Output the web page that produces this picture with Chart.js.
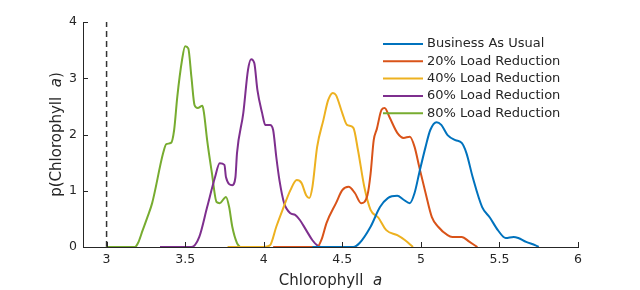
<!DOCTYPE html>
<html>
<head>
<meta charset="utf-8">
<script src="https://cdn.jsdelivr.net/npm/chart.js@4/dist/chart.umd.min.js"></script>
<style>
html,body{margin:0;padding:0;background:#fff;}
#wrap{width:640px;height:290px;}
</style>
</head>
<body>
<div id="wrap"><canvas id="c" width="640" height="290"></canvas></div>
<script>
// ---- data ----
const seriesNames = ["Business As Usual","20% Load Reduction","40% Load Reduction","60% Load Reduction","80% Load Reduction"];
const seriesColors = ["#0072BD","#D95319","#EDB120","#7E2F8E","#77AC30"];

const bauX = [4.31,4.57,4.61,4.68,4.74,4.79,4.85,4.89,4.93,4.96,4.99,5.03,5.06,5.10,5.13,5.17,5.22,5.26,5.29,5.33,5.39,5.44,5.49,5.54,5.59,5.62,5.67,5.73,5.75];
const bauY = [0,0,0.07,0.36,0.71,0.87,0.91,0.84,0.78,0.96,1.32,1.78,2.08,2.22,2.17,1.99,1.90,1.85,1.67,1.24,0.71,0.52,0.30,0.16,0.18,0.16,0.09,0.03,0];

const r20X = [4.06,4.34,4.37,4.40,4.46,4.50,4.54,4.58,4.62,4.66,4.68,4.70,4.72,4.75,4.77,4.80,4.85,4.89,4.93,4.96,4.99,5.03,5.07,5.11,5.17,5.20,5.26,5.31,5.36];
const r20Y = [0,0,0.15,0.43,0.78,1.01,1.07,0.96,0.78,0.92,1.30,1.90,2.10,2.44,2.47,2.31,2.03,1.94,1.96,1.78,1.42,0.96,0.53,0.36,0.21,0.18,0.18,0.09,0];

const r40X = [3.77,4.00,4.04,4.08,4.12,4.17,4.21,4.24,4.27,4.29,4.31,4.34,4.38,4.41,4.44,4.46,4.50,4.53,4.57,4.60,4.64,4.68,4.73,4.78,4.85,4.90,4.95];
const r40Y = [0,0,0.03,0.36,0.66,1.01,1.19,1.14,0.92,0.87,1.07,1.78,2.26,2.61,2.74,2.70,2.38,2.17,2.12,1.72,1.07,0.66,0.52,0.30,0.21,0.12,0];

const r60X = [3.34,3.54,3.59,3.64,3.69,3.72,3.75,3.76,3.80,3.82,3.83,3.87,3.90,3.92,3.94,3.96,3.99,4.01,4.04,4.06,4.08,4.10,4.13,4.17,4.20,4.23,4.27,4.31,4.34,4.36];
const r60Y = [0,0,0.18,0.71,1.24,1.49,1.46,1.24,1.10,1.24,1.67,2.38,3.15,3.34,3.27,2.79,2.38,2.17,2.17,2.08,1.60,1.19,0.78,0.60,0.57,0.48,0.30,0.12,0.03,0];

const r80X = [3.00,3.18,3.20,3.23,3.26,3.29,3.36,3.38,3.41,3.43,3.45,3.48,3.50,3.52,3.54,3.56,3.58,3.61,3.62,3.64,3.67,3.70,3.72,3.76,3.78,3.80,3.83,3.85];
const r80Y = [0,0,0.07,0.30,0.53,0.78,1.67,1.83,1.85,2.08,2.67,3.32,3.57,3.53,3.02,2.52,2.47,2.51,2.38,1.90,1.32,0.80,0.78,0.89,0.71,0.36,0.07,0];

const thresholdX = [3, 3];
const thresholdY = [0, 4];

const xTicks = [3, 3.5, 4, 4.5, 5, 5.5, 6];
const yTicks = [0, 1, 2, 3, 4];
const xRange = [2.85, 6];
const yRange = [0, 4];

const xTitle = ["Chlorophyll  ", "a", ""];
const yTitle = ["p(Chlorophyll  ", "a", ")"];

// ---- build ----
const FONT = "'DejaVu Sans', sans-serif";
const INK = "#262626";
const zip = (xs, ys) => xs.map((x, i) => ({x: x, y: ys[i]}));
const allX = [bauX, r20X, r40X, r60X, r80X];
const allY = [bauY, r20Y, r40Y, r60Y, r80Y];

const datasets = seriesNames.map((n, i) => ({
  label: n,
  data: zip(allX[i], allY[i]),
  borderColor: seriesColors[i],
  backgroundColor: seriesColors[i],
  borderWidth: 2,
  pointRadius: 0,
  showLine: true,
  fill: false,
  cubicInterpolationMode: 'monotone'
}));
datasets.push({
  label: '__threshold',
  data: zip(thresholdX, thresholdY),
  borderColor: '#333333',
  borderWidth: 1.5,
  borderDash: [6, 4],
  pointRadius: 0,
  showLine: true,
  fill: false
});

function drawMixed(ctx, parts, size, cx, cy, rot) {
  ctx.save();
  ctx.translate(cx, cy);
  ctx.rotate(rot);
  ctx.fillStyle = INK;
  ctx.textBaseline = 'middle';
  ctx.textAlign = 'left';
  const fonts = [size + "px " + FONT, "italic " + size + "px " + FONT, size + "px " + FONT];
  let w = 0;
  const ws = parts.map((p, i) => { ctx.font = fonts[i]; const m = ctx.measureText(p).width; w += m; return m; });
  let x = -w / 2;
  parts.forEach((p, i) => { ctx.font = fonts[i]; ctx.fillText(p, x, 0); x += ws[i]; });
  ctx.restore();
}

const decor = {
  id: 'decor',
  afterDatasetsDraw(chart) {
    const ctx = chart.ctx;
    const xs = chart.scales.x, ys = chart.scales.y;
    const a = chart.chartArea;
    ctx.save();
    ctx.strokeStyle = INK;
    ctx.lineWidth = 1;
    // inward tick marks
    xTicks.forEach(v => {
      const px = Math.round(xs.getPixelForValue(v)) + 0.5;
      ctx.beginPath(); ctx.moveTo(px, a.bottom); ctx.lineTo(px, a.bottom - 5); ctx.stroke();
    });
    yTicks.forEach(v => {
      const py = Math.round(ys.getPixelForValue(v)) + 0.5;
      ctx.beginPath(); ctx.moveTo(a.left, py); ctx.lineTo(a.left + 5, py); ctx.stroke();
    });
    ctx.restore();
    // axis titles
    drawMixed(ctx, xTitle, 15, (a.left + a.right) / 2, 281, 0);
    drawMixed(ctx, yTitle, 15, 57, (a.top + a.bottom) / 2, -Math.PI / 2);
    // legend
    ctx.save();
    ctx.font = "13px " + FONT;
    ctx.textBaseline = 'middle';
    ctx.textAlign = 'left';
    seriesNames.forEach((n, i) => {
      const y = 44 + i * 17.3;
      ctx.strokeStyle = seriesColors[i];
      ctx.lineWidth = 2;
      ctx.beginPath(); ctx.moveTo(383, y); ctx.lineTo(423, y); ctx.stroke();
      ctx.fillStyle = INK;
      ctx.fillText(n, 427, y);
    });
    ctx.restore();
  }
};

new Chart(document.getElementById('c'), {
  type: 'scatter',
  data: { datasets: datasets },
  options: {
    responsive: false,
    animation: false,
    devicePixelRatio: 1,
    layout: { padding: { left: 0, right: 62, top: 22, bottom: 0 } },
    plugins: { legend: { display: false }, tooltip: { enabled: false } },
    scales: {
      x: {
        type: 'linear', min: xRange[0], max: xRange[1],
        afterBuildTicks: s => { s.ticks = xTicks.map(v => ({value: v})); },
        afterFit: s => { s.height = 43; },
        ticks: { color: INK, font: { family: FONT, size: 12.5 }, padding: 5, maxRotation: 0,
                 callback: v => String(v) },
        grid: { display: true, drawOnChartArea: false, drawTicks: false },
        border: { display: true, color: INK, width: 1 }
      },
      y: {
        type: 'linear', min: yRange[0], max: yRange[1],
        afterBuildTicks: s => { s.ticks = yTicks.map(v => ({value: v})); },
        afterFit: s => { s.width = 83; },
        ticks: { color: INK, font: { family: FONT, size: 12.5 }, padding: 6,
                 callback: v => String(v) },
        grid: { display: true, drawOnChartArea: false, drawTicks: false },
        border: { display: true, color: INK, width: 1 }
      }
    }
  },
  plugins: [decor]
});
</script>
</body>
</html>
